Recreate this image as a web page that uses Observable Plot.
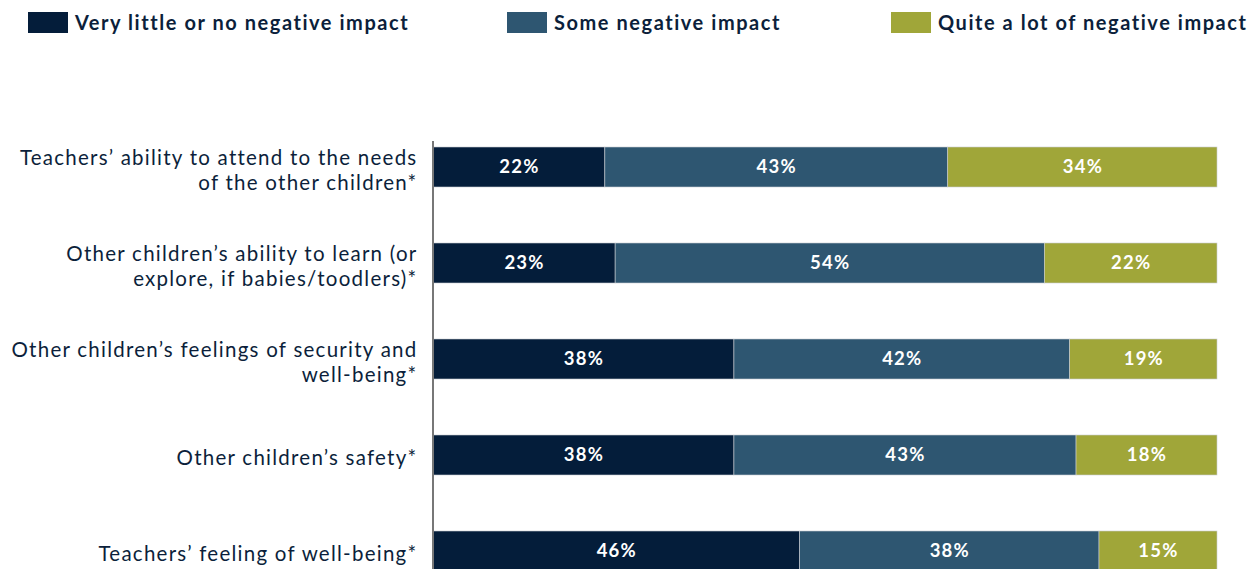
<!DOCTYPE html>
<html>
<head>
<meta charset="utf-8">
<script src="https://cdn.jsdelivr.net/npm/d3@7"></script>
<script src="https://cdn.jsdelivr.net/npm/@observablehq/plot@0.6"></script>
<style>
  body { margin: 0; background: #fff; font-family: Lato, "Open Sans", sans-serif; }
  #legend { position: relative; height: 40px; width: 1260px; }
  .item { position: absolute; top: 10px; display: flex; align-items: center; gap: 7px;
          font-weight: 700; font-size: 20px; letter-spacing: 1.55px; color: #0c1f3b; white-space: nowrap; }
  .sw { width: 40px; height: 21px; display: inline-block; }
  #chart svg { display: block; }
</style>
</head>
<body>
<div id="legend"></div>
<div id="chart"></div>
<script>
const categories = [
  "Teachers’ ability to attend to the needs\nof the other children*",
  "Other children’s ability to learn (or\nexplore, if babies/toodlers)*",
  "Other children’s feelings of security and\nwell-being*",
  "Other children’s safety*",
  "Teachers’ feeling of well-being*"
];
const seriesNames = ["Very little or no negative impact", "Some negative impact", "Quite a lot of negative impact"];
const seriesColors = ["#041d3a", "#2e5671", "#a0a639"];
const veryLittle = [21.7, 23.0, 38.0, 38.0, 46.3];
const someImpact = [43.3, 54.2, 42.4, 43.2, 37.8];
const quiteALot  = [34.0, 21.8, 18.6, 17.8, 14.9];
const legendLeft = [28, 507, 891];

const seriesValues = [veryLittle, someImpact, quiteALot];
const data = [];
categories.forEach((c, i) => {
  seriesNames.forEach((s, j) => {
    data.push({category: c, series: s, value: seriesValues[j][i]});
  });
});

// legend
const leg = document.getElementById("legend");
seriesNames.forEach((s, j) => {
  const d = document.createElement("div");
  d.className = "item";
  d.style.left = legendLeft[j] + "px";
  d.innerHTML = `<span class="sw" style="background:${seriesColors[j]}"></span><span>${s}</span>`;
  leg.appendChild(d);
});

const chart = Plot.plot({
  width: 1260,
  height: 559,
  marginTop: 79,
  marginBottom: 0,
  marginLeft: 433,
  marginRight: 43,
  style: {fontFamily: "Lato, 'Open Sans', sans-serif", background: "#fff", letterSpacing: "1.25px"},
  x: {domain: [0, 99], axis: null},
  y: {domain: categories, paddingInner: 0.5825, paddingOuter: 0.29125, label: null},
  color: {domain: seriesNames, range: seriesColors},
  marks: [
    Plot.barX(data, {x: "value", y: "category", fill: "series", stroke: "#c9ccd2", strokeWidth: 0.6, order: seriesNames}),
    Plot.text(data, Plot.stackX({x: "value", y: "category", z: "series", order: seriesNames,
      text: d => Math.round(d.value) + "%", fill: "white", fontWeight: 700, fontSize: 18.5})),
    Plot.ruleX([0], {stroke: "#777", strokeWidth: 2, insetTop: 22, dx: -0.5}),
    Plot.axisY({tickSize: 0, tickPadding: 16, fontSize: 20.5, lineHeight: 1.2, fill: "#0c1f3b", label: null, textAnchor: "end", dy: 2})
  ]
});
document.getElementById("chart").appendChild(chart);
</script>
</body>
</html>
